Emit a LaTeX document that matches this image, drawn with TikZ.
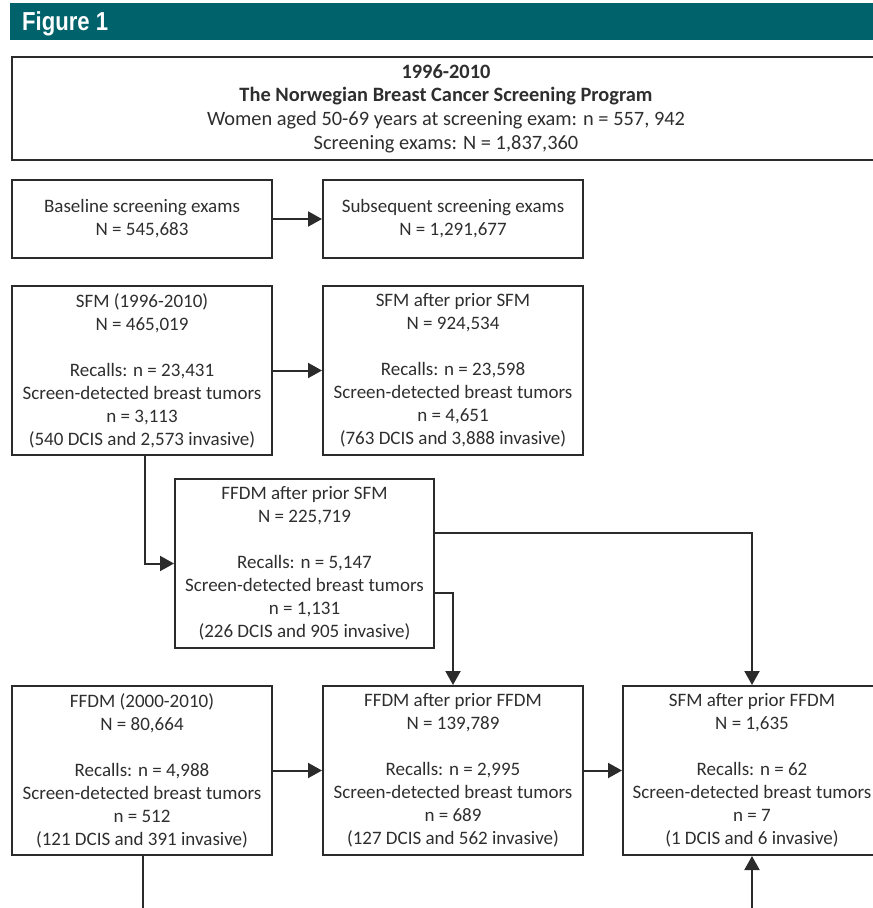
\documentclass[tikz,border=0pt]{standalone}
\usepackage{fontspec}
\setmainfont{Carlito}
\newfontfamily\figfont[FakeStretch=0.85]{Liberation Sans}
\usetikzlibrary{arrows.meta}
\definecolor{teal1}{HTML}{00626B}
\definecolor{ink}{HTML}{2B2B2B}
\definecolor{txt}{HTML}{2E2E2E}
\tikzset{
  box/.style={draw=ink, line width=2pt, rectangle, align=center, text=txt,
    font=\fontsize{19}{23}\selectfont, inner sep=0pt, minimum height=169pt, minimum width=260pt},
  arr/.style={draw=ink, line width=2pt, -{Triangle[length=14pt,width=15pt]}},
  ln/.style={draw=ink, line width=2pt},
}
\begin{document}
\begin{tikzpicture}[x=1pt,y=-1pt]
\useasboundingbox (0,0) rectangle (873,908);
\clip (0,0) rectangle (873,908);
\fill[teal1] (10,3) rectangle (880,39.5);
\node[anchor=base west, text=white, inner sep=0pt, font=\figfont\bfseries\fontsize{26}{26}\selectfont] (fig) at (22,30) {Figure 1};

\node[box, minimum width=868pt, minimum height=103pt, font=\fontsize{20.4}{23.7}\selectfont] (top) at (446,108.5)
  {\textbf{1996-2010}\\\textbf{The Norwegian Breast Cancer Screening Program}\\Women aged 50-69 years at screening exam: n = 557, 942\\Screening exams: N = 1,837,360};

\node[box, minimum height=78pt] (base) at (142,219) {Baseline screening exams\\N = 545,683};
\node[box, minimum height=78pt] (subs) at (453,219) {Subsequent screening exams\\N = 1,291,677};

\node[box] (sfm) at (142,370.5) {SFM (1996-2010)\\N = 465,019\\[23pt]Recalls: n = 23,431\\Screen-detected breast tumors\\n = 3,113\\(540 DCIS and 2,573 invasive)};
\node[box] (sfmsfm) at (453,370.5) {SFM after prior SFM\\N = 924,534\\[23pt]Recalls: n = 23,598\\Screen-detected breast tumors\\n = 4,651\\(763 DCIS and 3,888 invasive)};

\node[box, minimum width=259pt] (ffdmsfm) at (304.5,563.5) {FFDM after prior SFM\\N = 225,719\\[23pt]Recalls: n = 5,147\\Screen-detected breast tumors\\n = 1,131\\(226 DCIS and 905 invasive)};

\node[box] (ffdm) at (142,770.5) {FFDM (2000-2010)\\N = 80,664\\[23pt]Recalls: n = 4,988\\Screen-detected breast tumors\\n = 512\\(121 DCIS and 391 invasive)};
\node[box] (ffdmffdm) at (453,770.5) {FFDM after prior FFDM\\N = 139,789\\[23pt]Recalls: n = 2,995\\Screen-detected breast tumors\\n = 689\\(127 DCIS and 562 invasive)};
\node[box, minimum width=258pt] (sfmffdm) at (752,770.5) {SFM after prior FFDM\\N = 1,635\\[23pt]Recalls: n = 62\\Screen-detected breast tumors\\n = 7\\(1 DCIS and 6 invasive)};

\coordinate (ffdmout) at (143,920);
\coordinate (sfmffdmin) at (752,920);

\draw[arr] (base) -- (subs);
\draw[arr] (sfm) -- (sfmsfm);
\draw[arr] ([xshift=3pt]sfm.south) |- (ffdmsfm.west);
\draw[arr] (ffdmsfm.east |- 0,533) -| (sfmffdm.north);
\draw[arr] (ffdmsfm.east |- 0,593) -| (ffdmffdm.north);
\draw[arr] (ffdm) -- (ffdmffdm);
\draw[arr] (ffdmffdm) -- (sfmffdm);
\draw[ln] ([xshift=1pt]ffdm.south) -- (ffdmout);
\draw[arr] (sfmffdmin) -- (sfmffdm.south);
\end{tikzpicture}
\end{document}
